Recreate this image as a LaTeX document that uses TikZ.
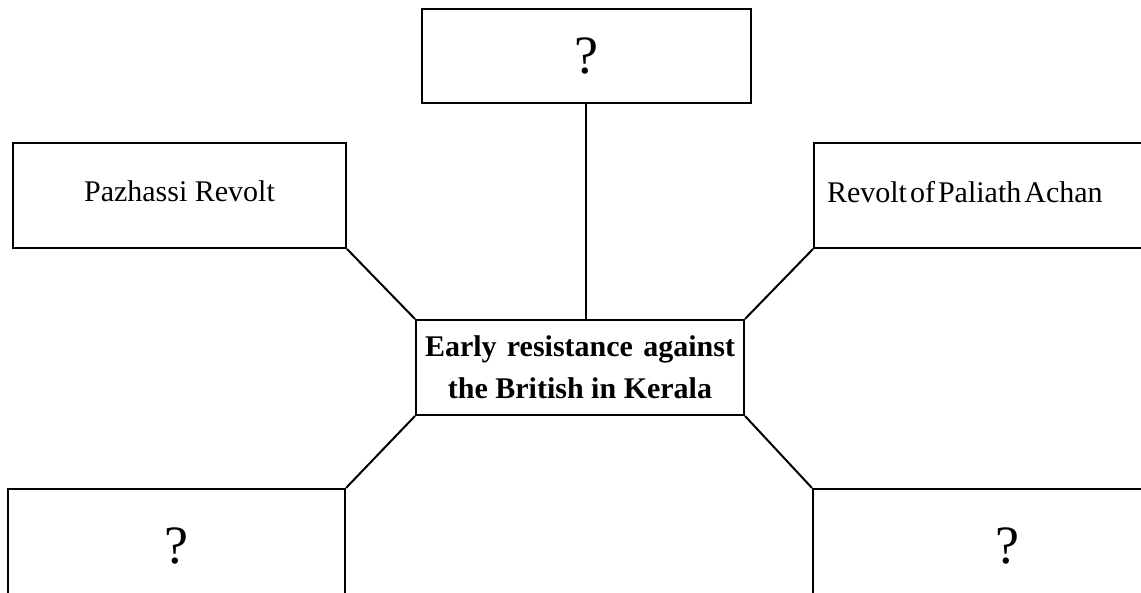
\documentclass[tikz,border=0pt]{standalone}
\usepackage{fontspec}
\setmainfont{Liberation Serif}
\usepackage{tikz}

\begin{document}
\begin{tikzpicture}[x=1pt,y=1pt,
  box/.style={draw,line width=2pt,minimum width=329pt,minimum height=94pt,inner sep=0pt,font=\fontsize{30}{36}\selectfont},
  qbox/.style={box,font=\fontsize{54}{60}\selectfont},
  link/.style={line width=2pt}]
\path[use as bounding box,clip] (0,0) rectangle (1141,593);
\node[qbox] (top) at (586,537) {?};
\node[box,minimum width=333pt,minimum height=105pt] (pazhassi) at (179.5,397.5) {\raisebox{8pt}{Pazhassi Revolt}};
\node[box,minimum width=388pt,minimum height=105pt,text width=362pt,align=left] (paliath) at (1008,397.5) {\raisebox{8pt}{\spaceskip=3pt Revolt of Paliath Achan}};
\node[box,minimum width=328pt,minimum height=95pt,align=center,font=\fontsize{30}{42}\selectfont\bfseries] (centre) at (580,225.5) {\makebox[310pt][s]{Early resistance against}\\the British in Kerala};
\node[qbox,minimum width=337pt,minimum height=120pt] (leftq) at (176.5,44) {\raisebox{6pt}{?}};
\node[qbox,minimum width=388pt,minimum height=120pt] (rightq) at (1007,44) {\raisebox{6pt}{?}};
\draw[link] (top.south) -- (top.south |- centre.north);
\draw[link] (pazhassi.south east) -- (centre.north west);
\draw[link] (paliath.south west) -- (centre.north east);
\draw[link] (centre.south west) -- (leftq.north east);
\draw[link] (centre.south east) -- (rightq.north west);
\end{tikzpicture}
\end{document}
